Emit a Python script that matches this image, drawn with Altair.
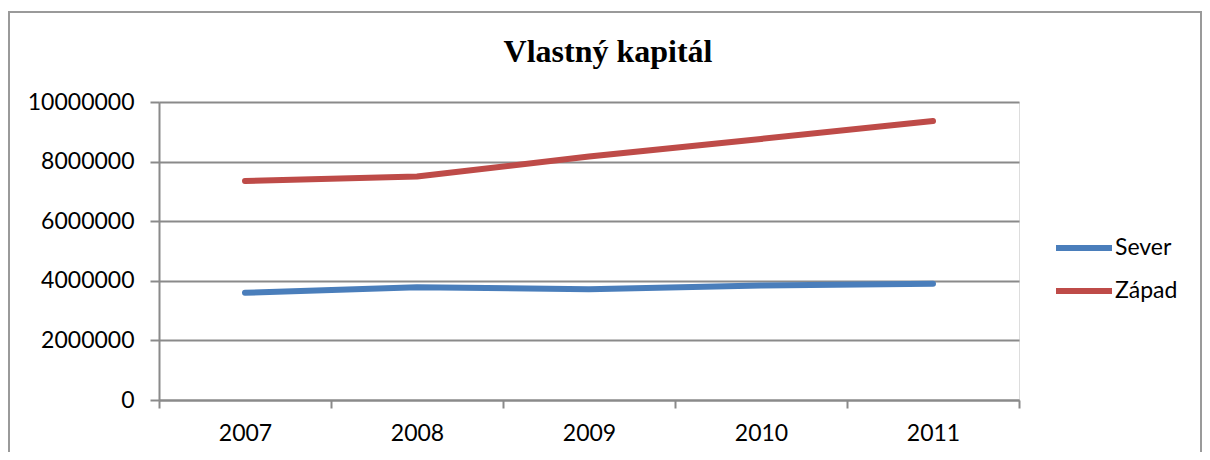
import altair as alt
import pandas as pd

years = ["2007", "2008", "2009", "2010", "2011"]
sever = [3600000, 3780000, 3720000, 3840000, 3900000]
zapad = [7350000, 7500000, 8170000, 8760000, 9360000]
series_names = ["Sever", "Západ"]
series_colors = ["#4A7EBB", "#BE4B48"]
y_ticks = [0, 2000000, 4000000, 6000000, 8000000, 10000000]
chart_title = "Vlastný kapitál"

rows = []
for name, vals in zip(series_names, [sever, zapad]):
    for yr, v in zip(years, vals):
        rows.append({"Rok": yr, "Hodnota": v, "Séria": name})
df = pd.DataFrame(rows)

FONT = "Lato"
GRID = "#8a8a8a"

lines = alt.Chart(df).mark_line(strokeWidth=6, strokeCap="round", strokeJoin="round").encode(
    x=alt.X("Rok:N", sort=years, title=None,
            scale=alt.Scale(paddingInner=0, paddingOuter=0),
            axis=alt.Axis(labelAngle=0, tickBand="extent", tickSize=8, tickWidth=2,
                          tickColor=GRID, domainColor=GRID, domainWidth=2,
                          labelFont=FONT, labelFontSize=23, labelColor="#000000",
                          labelPadding=14, grid=False)),
    y=alt.Y("Hodnota:Q", title=None,
            scale=alt.Scale(domain=[0, 10000000], nice=False),
            axis=alt.Axis(values=y_ticks, format="d", tickSize=9, tickWidth=2,
                          tickColor=GRID, domainColor=GRID, domainWidth=2,
                          gridColor=GRID, gridWidth=2, grid=True,
                          labelFont=FONT, labelFontSize=23, labelColor="#000000",
                          labelPadding=16)),
    color=alt.Color("Séria:N", sort=series_names,
                    scale=alt.Scale(domain=series_names, range=series_colors),
                    legend=alt.Legend(title=None, orient="none", legendX=894, legendY=115,
                                      symbolType="stroke", symbolStrokeWidth=6,
                                      symbolSize=3136, labelFont=FONT, labelFontSize=23,
                                      labelColor="#000000", labelOffset=0, rowPadding=-3)),
)

border = alt.Chart(alt.Data(values=[{}])).mark_rect(
    fill=None, stroke="#9a9a9a", strokeWidth=2
).encode(
    x=alt.value(-150), x2=alt.value(1042), y=alt.value(-90), y2=alt.value(420)
)

title = alt.Chart(alt.Data(values=[{}])).mark_text(
    text=chart_title, font="Liberation Serif", fontSize=32, fontWeight="bold",
    color="#000000", align="center", baseline="alphabetic"
).encode(x=alt.value(449), y=alt.value(-40))

chart = alt.layer(border, title, lines).properties(
    width=860, height=298,
    autosize=alt.AutoSizeParams(type="none"),
    padding={"left": 151, "top": 94, "right": 183, "bottom": 52},
).configure_view(stroke=None).configure(background="#ffffff")

chart.save("out.html", embed_options={"renderer": "svg", "actions": False})
